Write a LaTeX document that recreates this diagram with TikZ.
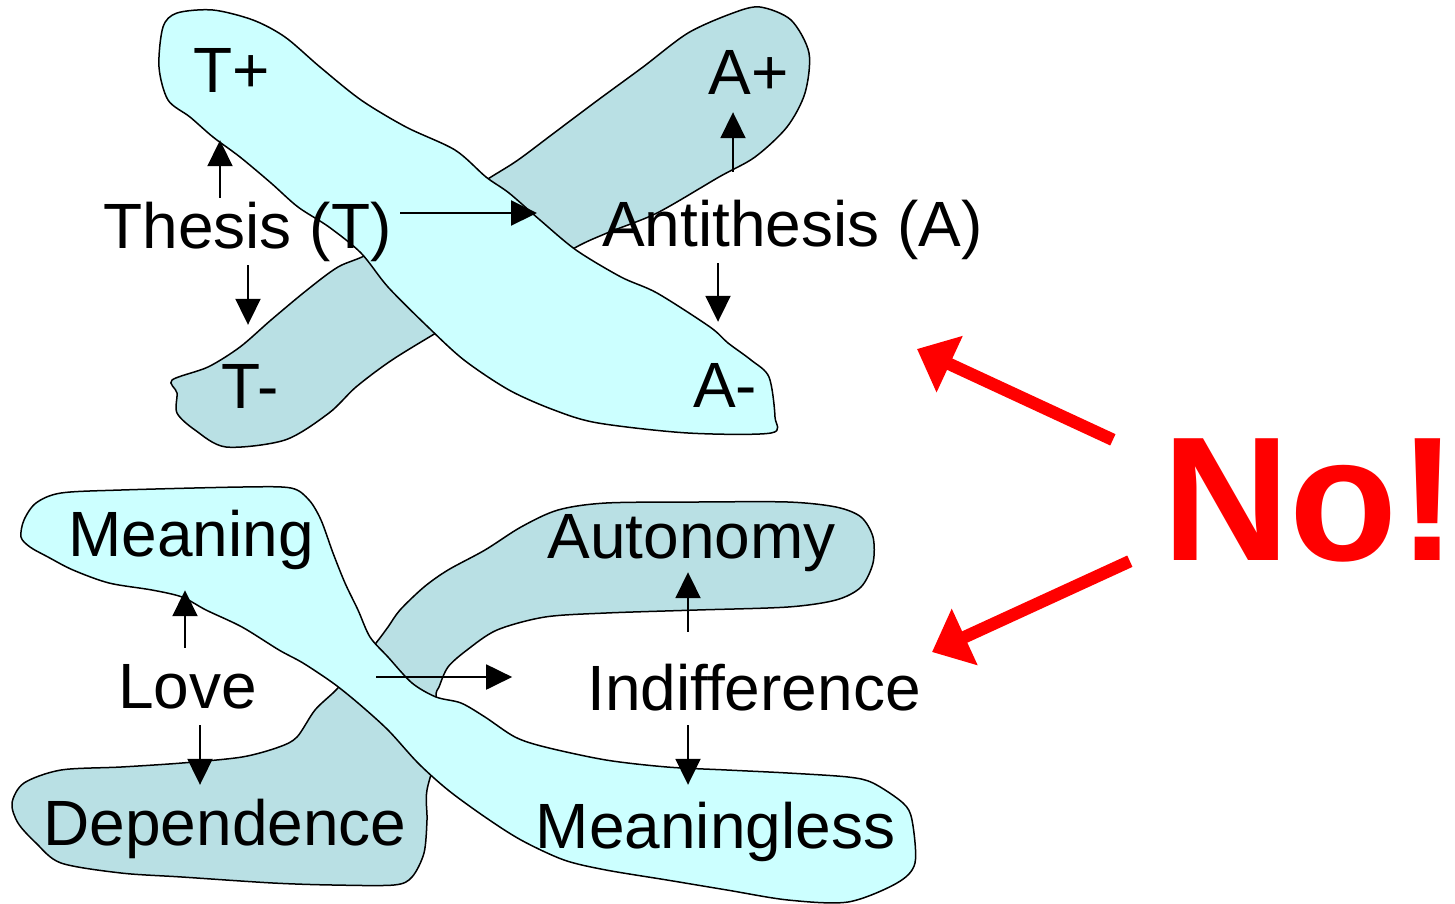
\documentclass[tikz,border=0pt]{standalone}
\usepackage{fontspec}
\setmainfont{Liberation Sans}
\usetikzlibrary{arrows.meta}
\definecolor{blobcyan}{RGB}{204,255,255}
\definecolor{blobteal}{RGB}{185,224,228}
\begin{document}
\begin{tikzpicture}[x=1pt,y=-1pt,
    pole/.style={font=\fontsize{64}{72}\selectfont,inner sep=0pt,text height=45pt,text depth=0pt,anchor=base},
    arr/.style={line width=2pt,-{Triangle[length=26pt,width=25pt]}},
    noarr/.style={red,line width=12.5pt,-{Triangle[length=36pt,width=60pt]}},
    blob/.style={draw=black,line width=1.5pt,line join=round}]
    \useasboundingbox (0,0) rectangle (1455,903);

    \draw[blob,fill=blobteal] plot[smooth cycle,tension=0.5] coordinates {
      (172,380) (177,393) (177,413) (195,430) (226,447) (285,440) (329,413) (356,387)
      (392,360) (441,330) (500,295) (571,250) (607,233) (657,213) (719,177) (755,157)
      (787,127) (805,93) (809,53) (791,20) (760,7) (733,13) (688,33) (643,67) (598,100)
      (554,133) (518,160) (491,177) (430,215) (370,253) (338,267) (307,290) (271,320)
      (240,347) (208,367)};
    \draw[blob,fill=blobcyan] plot[smooth cycle,tension=0.5] coordinates {
      (177,13) (213,10) (253,20) (285,37) (320,67) (361,100) (406,127) (455,150)
      (486,177) (509,193) (540,220) (576,250) (621,277) (657,293) (710,327) (728,343)
      (751,360) (769,377) (775,417) (771,433) (688,433) (598,423) (554,410) (509,390)
      (464,360) (428,327) (388,287) (361,253) (329,227) (298,207) (271,183) (240,157)
      (213,137) (190,117) (168,100) (159,67) (163,27)};

    \draw[blob,fill=blobteal] plot[smooth cycle,tension=0.5] coordinates {
      (336,690) (315,710) (297,737) (279,747) (242,757) (182,763) (121,767) (61,770)
      (24,783) (12,803) (18,823) (36,843) (61,863) (121,873) (182,877) (273,883)
      (333,885) (394,885) (412,877) (424,853) (427,820) (427,790) (440,740) (436,697)
      (439,687) (448,667) (467,650) (497,630) (545,617) (606,613) (697,610) (788,607)
      (836,600) (861,587) (873,563) (873,537) (861,517) (836,507) (788,502) (697,502)
      (606,503) (558,510) (521,527) (485,550) (448,570) (424,587) (400,610) (388,627)
      (376,643) (356,667)};
    \draw[blob,fill=blobcyan] plot[smooth cycle,tension=0.5] coordinates {
      (291,488) (242,487) (121,490) (61,493) (36,503) (24,520) (21,537) (30,547)
      (48,557) (73,570) (109,583) (152,590) (182,597) (206,610) (242,627) (279,650)
      (303,663) (333,683) (358,703) (388,730) (418,763) (448,790) (485,817) (521,840)
      (564,860) (606,870) (667,880) (727,890) (788,900) (848,902) (897,883) (915,863)
      (912,820) (903,803) (873,783) (848,777) (788,773) (727,770) (667,767) (606,760)
      (545,747) (515,737) (485,717) (461,703) (436,697) (412,683) (388,657) (370,637)
      (358,610) (345,583) (333,553) (321,520) (309,500)};

    \node[pole] (tplus) at (231.5,92) {T+};
    \node[pole] (aplus) at (748.5,94) {A+};
    \node[pole] (thesis) at (247.5,248) {Thesis (T)};
    \node[pole] (anti) at (792.5,246) {Antithesis (A)};
    \node[pole] (tminus) at (250,408) {T-};
    \node[pole] (aminus) at (725,407) {A-};

    \node[pole] (meaning) at (191,556) {Meaning};
    \node[pole] (autonomy) at (691.5,558) {Autonomy};
    \node[pole] (love) at (187.5,708) {Love};
    \node[pole] (indiff) at (754,710) {Indifference};
    \node[pole] (depend) at (225,845) {Dependence};
    \node[pole] (meaningless) at (715.5,848) {Meaningless};

    \node[font=\fontsize{177}{190}\selectfont\bfseries,text=red,inner sep=0pt,
      text height=126pt,text depth=0pt,anchor=base] (no) at (1309.5,560) {No!};

    \draw[arr] ([xshift=-27.5pt,yshift=5pt]thesis.north) -- ([xshift=-11.5pt,yshift=-48pt]tplus.south);
    \draw[arr] ([xshift=0.5pt,yshift=-17pt]thesis.south) -- ([xshift=-2pt,yshift=38pt]tminus.north);
    \draw[arr] ([xshift=8.5pt,yshift=12.5pt]thesis.east) -- ([xshift=-65pt,yshift=10.5pt]anti.west);
    \draw[arr] ([xshift=-59.5pt,yshift=29pt]anti.north) -- ([xshift=-15.5pt,yshift=-18pt]aplus.south);
    \draw[arr] ([xshift=-74.5pt,yshift=-17pt]anti.south) -- ([xshift=-7pt,yshift=40pt]aminus.north);

    \draw[arr] ([xshift=-2.5pt,yshift=15pt]love.north) -- ([xshift=-6pt,yshift=-34pt]meaning.south);
    \draw[arr] ([xshift=12.5pt,yshift=-17pt]love.south) -- ([xshift=-25pt,yshift=15pt]depend.north);
    \draw[arr] ([xshift=119pt,yshift=8.5pt]love.east) -- ([xshift=-75pt,yshift=10.5pt]indiff.west);
    \draw[arr] ([xshift=-66pt,yshift=33pt]indiff.north) -- ([xshift=-3.5pt,yshift=-14pt]autonomy.south);
    \draw[arr] ([xshift=-66pt,yshift=-15pt]indiff.south) -- ([xshift=-27.5pt,yshift=18pt]meaningless.north);

    \coordinate (uptip) at (917,349);
    \coordinate (downtip) at (932,652);
    \draw[noarr] ([xshift=-49pt,yshift=-6pt]no.north west) -- (uptip);
    \draw[noarr] ([xshift=-32pt,yshift=-1pt]no.south west) -- (downtip);
  \end{tikzpicture}
\end{document}
